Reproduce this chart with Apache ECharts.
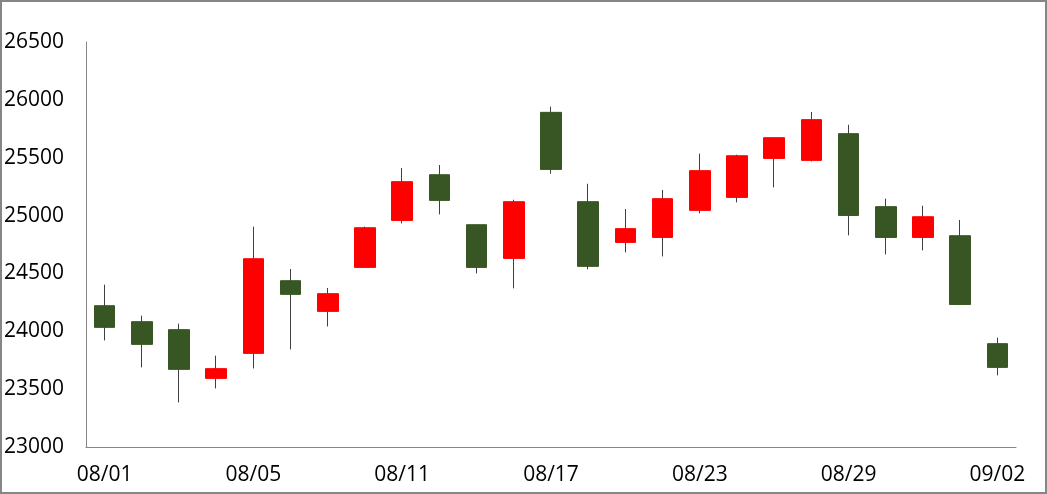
<!DOCTYPE html>
<html>
<head>
<meta charset="utf-8">
<script src="https://cdn.jsdelivr.net/npm/echarts@6/dist/echarts.min.js"></script>
<style>
  html, body { margin: 0; padding: 0; background: #fff; }
  #main { width: 1047px; height: 494px; }
</style>
</head>
<body>
<div id="main"></div>
<script>
const categories = ['08/01','08/02','08/03','08/04','08/05','08/08','08/09','08/10','08/11','08/12',
  '08/15','08/16','08/17','08/18','08/19','08/22','08/23','08/24','08/25','08/26',
  '08/29','08/30','08/31','09/01','09/02'];
const openValues  = [24221,24083,24014,23593,23809,24437,24172,24552,24958,25353,
  24921,24630,25892,25120,24768,24811,25045,25157,25494,25477,
  25708,25077,24811,24826,23893];
const closeValues = [24034,23887,23671,23677,24627,24319,24325,24895,25293,25131,
  24552,25120,25399,24561,24887,25146,25388,25517,25673,25829,
  25001,24811,24990,24232,23688];
const lowValues   = [23921,23688,23385,23506,23679,23843,24042,24552,24932,25010,
  24500,24371,25362,24535,24682,24647,25019,25114,25243,25468,
  24829,24664,24699,24232,23619];
const highValues  = [24403,24135,24066,23789,24904,24538,24374,24905,25411,25437,
  24921,25137,25941,25275,25057,25221,25535,25526,25673,25895,
  25785,25146,25085,24962,23945];
const yTicks = { min: 23000, max: 26500, step: 500 };

const upColor = '#FF0000';
const downColor = '#375623';
const wickColor = '#404040';

const wickData = categories.map((c, i) => [openValues[i], closeValues[i], lowValues[i], highValues[i]]);
const bodyData = categories.map((c, i) => [openValues[i], closeValues[i],
  Math.min(openValues[i], closeValues[i]), Math.max(openValues[i], closeValues[i])]);

const chart = echarts.init(document.getElementById('main'), null, { renderer: 'canvas' });
const labelFont = '"Open Sans", "Noto Sans", sans-serif';
chart.setOption({
  animation: false,
  backgroundColor: '#ffffff',
  grid: { left: 86, right: 31, top: 42, bottom: 47, containLabel: false, outerBoundsMode: 'none' },
  xAxis: {
    type: 'category',
    data: categories,
    boundaryGap: true,
    axisLine: { show: true, lineStyle: { color: '#868686', width: 1 } },
    axisTick: { show: false },
    splitLine: { show: false },
    axisLabel: { interval: 3, color: '#000', fontSize: 21, fontFamily: labelFont, margin: 18 }
  },
  yAxis: {
    type: 'value',
    min: yTicks.min, max: yTicks.max, interval: yTicks.step,
    axisLine: { show: true, lineStyle: { color: '#868686', width: 1 } },
    axisTick: { show: false },
    splitLine: { show: false },
    axisLabel: { color: '#000', fontSize: 21, fontFamily: labelFont, margin: 22,
      formatter: v => String(v) }
  },
  graphic: [{
    type: 'rect', silent: true, z: 100,
    shape: { x: 1, y: 1, width: 1045, height: 492 },
    style: { fill: 'none', stroke: '#868686', lineWidth: 2 }
  }],
  series: [
    {
      name: 'wick', type: 'candlestick', data: wickData, barWidth: 1, z: 2,
      itemStyle: { color: wickColor, color0: wickColor, borderColor: wickColor, borderColor0: wickColor, borderWidth: 1 }
    },
    {
      name: 'body', type: 'candlestick', data: bodyData, barWidth: 21, z: 3,
      itemStyle: { color: upColor, color0: downColor, borderColor: upColor, borderColor0: downColor, borderWidth: 1 }
    }
  ]
});
</script>
</body>
</html>
